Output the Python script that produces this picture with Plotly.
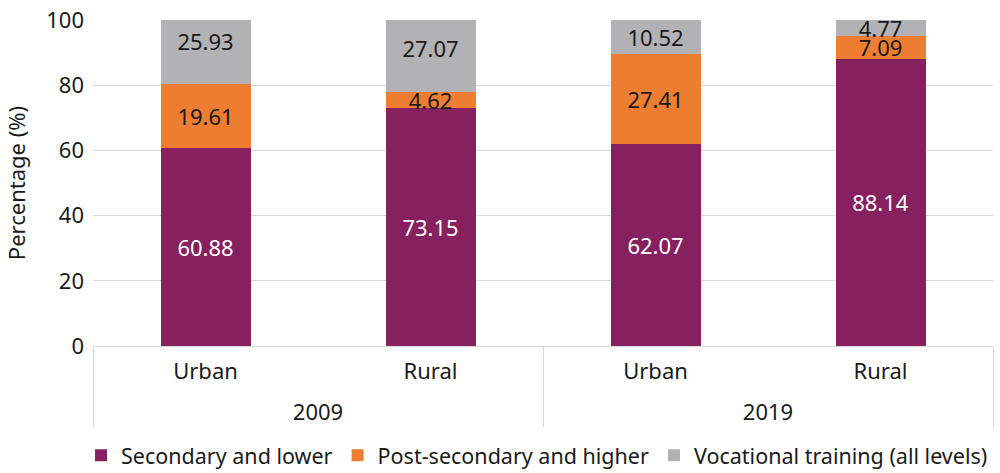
import plotly.graph_objects as go

years = ["2009", "2009", "2019", "2019"]
areas = ["Urban", "Rural", "Urban", "Rural"]

secondary = [60.88, 73.15, 62.07, 88.14]
post_secondary = [19.61, 4.62, 27.41, 7.09]
vocational = [25.93, 27.07, 10.52, 4.77]

series = [
    ("Secondary and lower", secondary, "#86205f", "white"),
    ("Post-secondary and higher", post_secondary, "#ed7d31", "#1a1a1a"),
    ("Vocational training (all levels)", vocational, "#b2b2b4", "#1a1a1a"),
]

font_family = "Noto Sans, Open Sans, sans-serif"
fs = 22

# taller invisible spaces on both sides make the area row deeper, so the year row sits lower
sp = "<span style='font-size:33px'>\u00a0</span>"
area_labels = [sp + a + sp for a in areas]

fig = go.Figure()
for name, vals, color, tcolor in series:
    fig.add_trace(go.Bar(
        x=[years, area_labels], y=vals, name=name,
        marker=dict(color=color, line=dict(width=0)),
        text=[f"{v:.2f}" for v in vals],
        textposition="inside", insidetextanchor="middle",
        constraintext="none",
        textfont=dict(color=tcolor, size=fs, family=font_family),
        width=0.4,
    ))

fig.update_layout(
    barmode="stack",
    width=1000, height=473,
    margin=dict(l=93, r=7, t=20, b=127, autoexpand=False),
    plot_bgcolor="white", paper_bgcolor="white",
    font=dict(family=font_family, size=fs, color="#1a1a1a"),
    legend=dict(orientation="h", x=-0.0133, xanchor="left", y=-0.335, yanchor="middle",
                font=dict(size=21.5), traceorder="normal", itemwidth=30,
                tracegroupgap=0, bgcolor="rgba(0,0,0,0)"),
    yaxis=dict(range=[0, 100], dtick=20, showgrid=True, gridcolor="#d9d9d9",
               gridwidth=1, zeroline=False, ticks="", automargin=False,
               ticklabelstandoff=8,
               title=dict(text="Percentage (%)", font=dict(size=fs), standoff=14)),
    xaxis=dict(showline=True, linecolor="#d9d9d9", linewidth=1, automargin=False,
               showdividers=True, dividercolor="#d9d9d9", dividerwidth=1,
               ticks="", tickfont=dict(size=fs), ticklabelstandoff=6),
)

fig.write_html("out.html", config={"displayModeBar": False},
               post_script="document.body.style.margin='0';")
